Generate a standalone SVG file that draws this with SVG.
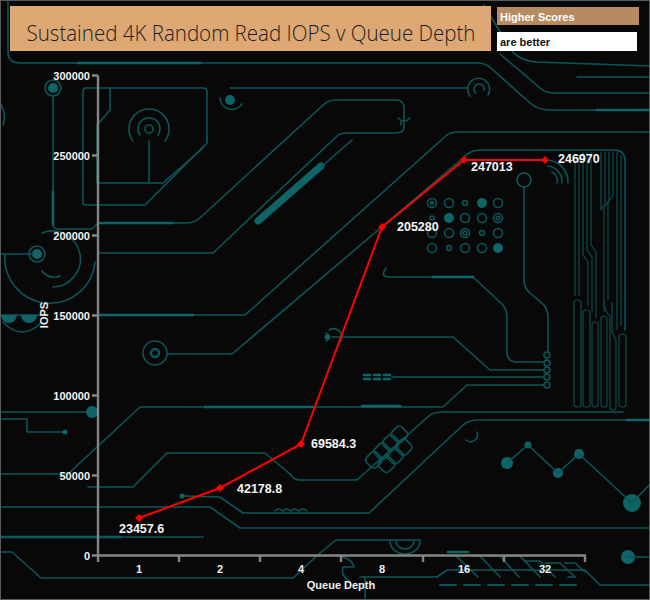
<svg xmlns="http://www.w3.org/2000/svg" width="650" height="600" viewBox="0 0 650 600">
<style>
.t{fill:none;stroke:#0c5659;stroke-width:1.6;stroke-linecap:round;stroke-linejoin:round}
.tb{fill:none;stroke:#0f6468;stroke-width:2.6;stroke-linecap:round}
.bus{fill:none;stroke:#0a4a4d;stroke-width:1.2;stroke-linejoin:round}
.f{fill:#0f6468}
.ax{fill:none;stroke:#858585;stroke-width:2.4}
.lbl{font-family:"Liberation Sans",Arial,sans-serif;font-weight:bold;font-size:11px;fill:#f2f2f2}
.dl{font-family:"Liberation Sans",Arial,sans-serif;font-weight:bold;font-size:12.5px;fill:#f5f5f5}
</style>
<defs>
<marker id="dm" viewBox="-5 -5 10 10" markerWidth="8" markerHeight="8" markerUnits="userSpaceOnUse" refX="0" refY="0">
<path d="M0,-5 L5,0 L0,5 L-5,0 Z" fill="#ff0000"/>
</marker>
</defs>
<rect x="0" y="0" width="650" height="600" fill="#080808"/>
<g id="background">
<path class="t" d="M8,0 V52 Q8,63 20,63 H478 Q486,63 492,69 L530,103 Q538,110 550,110 H650"/>
<path class="tb" d="M78,63 H200 M597,110 H650"/>
<path class="t" d="M484,5 L510,48 Q517,60 536,62 L650,66"/>
<path class="t" d="M500,54 L540,88 Q545,93 555,93 H650"/>
<path class="t" d="M577,77 H650"/>
<path class="t" d="M230,88 H468"/>
<path class="t" d="M470,96 A11,11 0 1 1 488,95"/>
<path class="t" d="M476,93 A5,5 0 1 1 484,90"/>
<circle class="f" cx="230" cy="100" r="5"/>
<path class="t" d="M220,98 A12,12 0 0 0 242,104"/>
<circle class="t" cx="53" cy="88" r="8"/>
<circle class="f" cx="53" cy="88" r="5"/>
<path class="t" d="M53,96 V224 Q53,229 58,229 H92 L98,223 H187 Q195,223 202,216 L322,106 Q328,100 336,100 H396 Q404,100 404,108 V127 Q404,133 396,133 H346 Q340,133 336,137 L213,253 H98"/>
<path class="tb" d="M53,192 V224 M100,223 H172"/>
<path class="t" d="M398,118 Q404,124 410,118 M401,121 V125"/>
<path class="t" d="M86,88 H203 Q207,88 207,92 V143 L145,205 H86 Q83,205 83,202 V92 Q83,88 86,88 Z"/>
<path class="t" d="M110,88 V110 L97,125 V183 H163 L203,148"/>
<path class="t" d="M133,141 A20,20 0 1 1 165,141"/>
<path class="t" d="M140,135 A11,11 0 1 1 158,135"/>
<circle class="t" cx="149" cy="129" r="4"/>
<path class="t" d="M149,141 V183"/>
<path class="t" d="M0,103 Q7,114 3,125"/>
<path class="t" d="M5,254 A45,45 0 0 0 95,262"/>
<path class="t" d="M0,254 H32"/>
<circle class="f" cx="37" cy="254" r="5"/>
<circle class="t" cx="37" cy="254" r="8"/>
<path class="t" d="M42,233 A28,28 0 1 1 53,287"/>
<path class="t" d="M42,271 A15,15 0 0 0 60,276"/>
<path class="tb" d="M258,221 L321,166" style="stroke-width:7"/>
<path class="t" d="M320,168 L352,140"/>
<path class="t" d="M0,315 H40"/>
<path class="f" d="M1,315 A8,8 0 0 0 17,315 Z M21,315 A8,8 0 0 0 37,315 Z"/>
<path class="t" d="M3,322 Q22,342 42,322"/>
<path class="t" d="M98,315 H245 L447,135 Q451,132 458,132 H650"/>
<path class="tb" d="M100,315 H193"/>
<circle class="t" cx="155" cy="353" r="12"/>
<circle class="t" cx="155" cy="353" r="4" style="stroke-width:2.6"/>
<path class="t" d="M167,354 H232 L463,158 Q470,150 480,150 H614 Q625,150 625,161 V330"/>
<g class="bus">
<path d="M575,160 V296 M579,156 V296 M583,152 V255 L588,262 V306"/>
<path d="M587,152 V250 L592,257 V312 M591,152 V245 L596,252 V318"/>
<path d="M601,152 V210 L605,203 V152 M609,152 V200 L604,208 V312 M613,152 V195 L608,203 V300"/>
<path d="M617,152 V330 M621,155 V326"/>
<rect x="574" y="300" width="7" height="107" rx="3"/>
<rect x="583" y="310" width="7" height="97" rx="3"/>
<rect x="592" y="322" width="6" height="85" rx="3"/>
<rect x="601" y="316" width="6" height="91" rx="3"/>
<path d="M604,302 Q604,310 610,316 V407 Q610,410 613,410 Q616,410 616,407 V340 L612,332 V302"/>
<rect x="619" y="334" width="7" height="73" rx="3"/>
</g>
<path class="t" d="M545,160 A22,22 0 0 1 568,183 M548,166 A16,16 0 0 1 562,183 M552,172 A10,10 0 0 1 557,183"/>
<circle class="t" cx="524" cy="180" r="7"/>
<path class="t" d="M524,187 V280 Q524,288 530,293 L544,305 Q548,310 548,318 V351"/>
<path class="t" d="M386,268 Q380,276 388,277 H473 L503,305 Q507,310 507,318 V352 Q507,362 517,362 H544"/>
<path class="tb" d="M433,277 H473"/>
<g class="t">
<circle cx="432" cy="203" r="4.5"/><circle cx="432" cy="203" r="1.5"/><circle cx="449" cy="203" r="4.5"/><circle cx="465" cy="203" r="2.5"/><circle cx="498" cy="203" r="4.5"/>
<circle cx="432" cy="218" r="2"/><circle cx="465" cy="218" r="4.5"/><circle cx="482" cy="218" r="4.5"/><circle cx="498" cy="218" r="4.5"/><circle cx="498" cy="218" r="1.8"/>
<circle cx="432" cy="233" r="4.5"/><circle cx="449" cy="233" r="4.5"/><circle cx="465" cy="233" r="4.5"/><circle cx="465" cy="233" r="2"/><circle cx="482" cy="233" r="2.5"/><circle cx="498" cy="233" r="4.5"/>
<circle cx="432" cy="248" r="4.5"/><circle cx="449" cy="248" r="2.5"/><circle cx="465" cy="248" r="4.5"/><circle cx="482" cy="248" r="4.5"/>
</g>
<circle class="f" cx="482" cy="203" r="5"/><circle class="f" cx="449" cy="218" r="5"/><circle class="f" cx="498" cy="248" r="5"/>
<g class="t"><circle cx="547" cy="355" r="3"/><circle cx="547" cy="363" r="3"/><circle cx="547" cy="370" r="3"/><circle cx="547" cy="377" r="3"/><circle cx="547" cy="385" r="3"/></g>
<path class="t" d="M332,337 H453 L490,370 H544"/>
<path class="t" d="M326,333 Q333,337 326,341 M329,330 A7,7 0 0 1 338,344"/>
<circle class="f" cx="327" cy="337" r="2.5"/>
<path class="t" d="M392,377 H544"/>
<path class="tb" d="M364,375 h6 M374,375 h6 M384,375 h6 M364,379 h6 M374,379 h6 M384,379 h6"/>
<path class="t" d="M0,474 H68 L140,407 H443 L467,385 H544"/>
<path class="tb" d="M205,407 H313 M362,406 H400"/>
<path class="t" d="M0,412 H86"/>
<circle class="f" cx="92" cy="412" r="6"/>
<path class="t" d="M0,419 H27 V432 H63"/>
<circle class="f" cx="65" cy="432" r="2.5"/>
<path class="t" d="M88,487 H133 L167,453 H265 L290,474 Q294,480 300,480 H357 L430,415 Q435,412 443,412 H623"/>
<path class="t" d="M183,496 L220,497 L243,513 H369 L462,426 Q468,420 478,420 H650"/>
<path class="tb" d="M627,420 H650"/>
<circle class="f" cx="182" cy="496" r="2.5"/>
<path class="t" d="M0,507 H210 L240,528 H650"/>
<path class="tb" d="M0,537 H120"/>
<path class="t" d="M0,537 H203"/>
<path class="t" d="M0,552 H12 L41,578 H293 L320,553 L336,540 H420"/>
<path class="t" d="M390,541 A15,13 0 0 0 420,541 M396,541 A9,8 0 0 0 414,541"/>
<path class="t" d="M275,511 q4,-4 8,0 q4,-4 8,0 q4,-4 8,0 q4,-4 8,0"/>
<path class="t" d="M466,440 A7,7 0 0 0 477,432"/>
<g class="t" transform="rotate(-45 388 450)">
<rect x="364" y="440" width="14" height="14" rx="4"/><rect x="376" y="440" width="14" height="14" rx="4"/><rect x="388" y="440" width="14" height="14" rx="4"/><rect x="400" y="440" width="14" height="14" rx="4"/>
<rect x="370" y="452" width="14" height="14" rx="4"/><rect x="382" y="452" width="14" height="14" rx="4"/><rect x="394" y="452" width="14" height="14" rx="4"/>
</g>
<circle class="f" cx="507" cy="463" r="6"/><circle class="f" cx="528" cy="445" r="3.5"/><circle class="f" cx="558" cy="473" r="5"/><circle class="f" cx="579" cy="454" r="5"/><circle class="f" cx="632" cy="503" r="9"/>
<path class="t" d="M507,463 L528,445 L558,473 L579,454 L632,503 L650,484"/>
<circle class="f" cx="628" cy="557" r="7"/>
<path class="t" d="M628,557 H650"/>
<path class="t" d="M360,577 H437 L447,570 H585 L600,585 H650"/>
<path class="t" d="M440,585 h16 M464,585 h16 M488,585 h16 M512,585 h16 M536,585 h16 M560,585 h16" style="stroke-width:2"/>
<path class="tb" d="M448,552 H468"/>
<path class="t" d="M455,555 L478,577 M470,556 H480 L500,577 M489,556 H500 L519,577 M505,556 H520 L540,577 M525,561 H540 L555,577 M545,563 H560 L575,577 H568 M565,563 H575 L585,572"/>
<path class="t" d="M337,556 Q352,558 354,567 H343 Q340,575 350,582"/>
<path class="t" d="M365,577 V600"/>
</g>
<g id="title">
<rect x="10" y="6" width="481" height="45" fill="#dda874"/>
<text x="251" y="41" text-anchor="middle" textLength="449" lengthAdjust="spacingAndGlyphs" font-family="'Open Sans','Noto Sans',sans-serif" font-weight="300" font-size="22" fill="#1c1c1c">Sustained 4K Random Read IOPS v Queue Depth</text>
</g>
<g id="legend">
<rect x="497" y="7" width="142" height="18" fill="#b68b61"/>
<text x="500" y="21" font-family="'Liberation Sans',Arial,sans-serif" font-weight="bold" font-size="11" fill="#ffffff">Higher Scores</text>
<rect x="497" y="32" width="140" height="19" fill="#ffffff"/>
<text x="500" y="46" font-family="'Liberation Sans',Arial,sans-serif" font-weight="bold" font-size="11" fill="#111111">are better</text>
</g>
<g id="axes">
<path class="ax" d="M98,75.5 V555.5 M92,555.5 H586"/>
<path class="ax" d="M92,75.5 H98 M92,155.5 H98 M92,235.5 H98 M92,315.5 H98 M92,395.5 H98 M92,475.5 H98"/>
<path class="ax" d="M98,555.5 V562 M179,555.5 V562 M260,555.5 V562 M341,555.5 V562 M423,555.5 V562 M504,555.5 V562 M585,555.5 V562"/>
<g class="lbl" text-anchor="end">
<text x="90" y="79.5">300000</text><text x="90" y="159.5">250000</text><text x="90" y="239.5">200000</text><text x="90" y="319.5">150000</text><text x="90" y="399.5">100000</text><text x="90" y="479.5">50000</text><text x="90" y="559.5">0</text>
</g>
<g class="lbl" text-anchor="middle">
<text x="139" y="573">1</text><text x="220" y="573">2</text><text x="301" y="573">4</text><text x="382" y="573">8</text><text x="464" y="573">16</text><text x="545" y="573">32</text>
<text x="341" y="589">Queue Depth</text>
</g>
<text class="lbl" text-anchor="middle" transform="translate(48,315) rotate(-90)">IOPS</text>
</g>
<g id="connectors">
<polyline points="139,518 220,488 301,444 382,227 464,160 545,160" fill="none" stroke="#ff0000" stroke-width="2" marker-start="url(#dm)" marker-mid="url(#dm)" marker-end="url(#dm)"/>
</g>
<g id="labels" class="dl">
<text x="119" y="533">23457.6</text>
<text x="237" y="493">42178.8</text>
<text x="311" y="448">69584.3</text>
<text x="397" y="231">205280</text>
<text x="471" y="171">247013</text>
<text x="558" y="163">246970</text>
</g>
<rect x="0.5" y="0.5" width="649" height="599" fill="none" stroke="#5a5a5a" stroke-width="1"/>
</svg>
